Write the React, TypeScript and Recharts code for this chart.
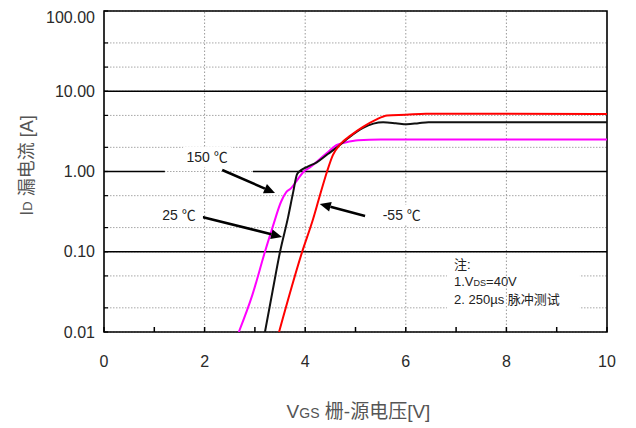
import React from 'react';
import { LineChart, Line, XAxis, YAxis, CartesianGrid, ReferenceLine, ReferenceDot, ReferenceArea } from 'recharts';

// transfer curves, Vgs [V] vs Id [A]
const vgs150 = [2.68, 2.95, 3.2, 3.36, 3.52, 3.62, 3.72, 3.84, 3.96, 4.1, 4.43, 4.63, 4.8, 5.05, 5.5, 10];
const id150 = [0.01, 0.029, 0.1, 0.21, 0.42, 0.55, 0.62, 0.78, 0.98, 1.13, 1.7, 2.15, 2.3, 2.45, 2.5, 2.5];

const vgs25 = [3.2, 3.35, 3.5, 3.66, 3.76, 3.84, 3.92, 4.05, 4.23, 4.45, 4.63, 4.85, 5.15, 5.55, 5.8, 6.02, 6.25, 6.45, 10];
const id25 = [0.01, 0.032, 0.1, 0.27, 0.55, 0.93, 1.04, 1.15, 1.3, 1.65, 2.0, 2.6, 3.5, 4.1, 4.0, 3.88, 4.0, 4.12, 4.12];

const vgsM55 = [3.48, 3.94, 4.16, 4.27, 4.43, 4.55, 4.7, 4.9, 5.15, 5.4, 5.63, 6.0, 6.4, 10];
const idM55 = [0.01, 0.1, 0.26, 0.45, 0.98, 1.6, 2.2, 2.8, 3.6, 4.4, 5.0, 5.1, 5.25, 5.2];

const xTicks = [0, 1, 2, 3, 4, 5, 6, 7, 8, 9, 10];
const xLabeled = [0, 2, 4, 6, 8, 10];
const yDecades = [0.01, 0.1, 1, 10, 100];
const yMinorSteps = [2, 3, 4, 5, 6, 7, 8, 9];

const FONT = '"Liberation Sans", Arial, "Noto Sans CJK SC", sans-serif';

const toPoints = (xs: number[], ys: number[]) => xs.map((v, i) => ({ vgs: v, id: ys[i] }));

const yTicks: number[] = [];
yDecades.forEach((d, i) => {
  yTicks.push(d);
  if (i < yDecades.length - 1) yMinorSteps.forEach((m) => yTicks.push(Number((d * m).toPrecision(3))));
});

const YTick = ({ x, y, payload }: any) => {
  if (!yDecades.includes(payload.value)) return null;
  return (
    <text x={x} y={y} textAnchor="end" dominantBaseline="central" fontSize={16} fill="#2a2a2a" fontFamily={FONT}>
      {payload.value.toFixed(2)}
    </text>
  );
};

const XTick = ({ x, y, payload }: any) => {
  if (!xLabeled.includes(payload.value)) return null;
  return (
    <text x={x} y={y} textAnchor="middle" dominantBaseline="central" fontSize={16} fill="#2a2a2a" fontFamily={FONT}>
      {payload.value}
    </text>
  );
};

const Arrow = (p: any) => {
  const { x1, y1, x2, y2 } = p;
  const ang = Math.atan2(y2 - y1, x2 - x1);
  const len = 11;
  const w = 5;
  const bx = x2 - len * Math.cos(ang);
  const by = y2 - len * Math.sin(ang);
  const nx = -Math.sin(ang) * w;
  const ny = Math.cos(ang) * w;
  return (
    <g>
      <line x1={x1} y1={y1} x2={bx} y2={by} stroke="#000" strokeWidth={2.6} />
      <polygon points={`${x2},${y2} ${bx + nx},${by + ny} ${bx - nx},${by - ny}`} fill="#000" />
    </g>
  );
};

const tempLabel = (text: string) => (p: any) => (
  <g>
    <rect x={p.cx - 24} y={p.cy - 10} width={48} height={20} fill="#fff" />
    <text x={p.cx} y={p.cy} textAnchor="middle" dominantBaseline="central" fontSize={14} fill="#222" fontFamily={FONT}>
      {text}
    </text>
  </g>
);

const NoteBox = (p: any) => (
  <g>
    <rect x={p.x} y={p.y} width={p.width} height={p.height} fill="#fff" />
    <text x={p.x + 7} y={p.y + 14} fontSize={13} fill="#222" fontFamily={FONT}>注:</text>
    <text x={p.x + 7} y={p.y + 31} fontSize={13} fill="#222" fontFamily={FONT}>
      1.V<tspan fontSize={9}>DS</tspan>=40V
    </text>
    <text x={p.x + 7} y={p.y + 49} fontSize={13} fill="#222" fontFamily={FONT}>2. 250µs 脉冲测试</text>
  </g>
);

const YLabel = (p: any) => {
  const vb = p.viewBox;
  const cx = vb.x - 17;
  const cy = vb.y + vb.height / 2 - 6;
  return (
    <text x={cx} y={cy} transform={`rotate(-90 ${cx} ${cy})`} textAnchor="middle" dominantBaseline="central" fontSize={18} fill="#555" fontFamily={FONT}>
      I<tspan fontSize={13}>D</tspan> 漏电流 [A]
    </text>
  );
};

const XLabel = (p: any) => {
  const vb = p.viewBox;
  return (
    <text x={vb.x + vb.width / 2 + 3} y={vb.y + 86} textAnchor="middle" fontSize={19} fill="#555" fontFamily={FONT}>
      V<tspan fontSize={14}>GS</tspan> 栅-源电压[V]
    </text>
  );
};

export default function App() {
  return (
    <div style={{ width: 620, height: 420, background: '#fff' }}>
      <LineChart width={620} height={420} margin={{ top: 3, right: 21, bottom: 56, left: 36 }}>
        <CartesianGrid vertical={false} stroke="#a8a8a8" strokeDasharray="1.5 1.5" />
        <XAxis
          dataKey="vgs"
          type="number"
          domain={[0, 10]}
          ticks={xTicks}
          allowDataOverflow
          axisLine={false}
          tickSize={-5}
          tickMargin={34}
          tickLine={{ stroke: '#000', strokeWidth: 1.5 }}
          tick={<XTick />}
          height={40}
          label={XLabel}
        />
        <YAxis
          dataKey="id"
          type="number"
          scale="log"
          domain={[0.01, 100]}
          ticks={yTicks}
          allowDataOverflow
          axisLine={false}
          tickSize={-4}
          tickMargin={13}
          tickLine={{ stroke: '#000', strokeWidth: 1.2 }}
          tick={<YTick />}
          width={60}
          label={YLabel}
        />
        {xLabeled.slice(1, -1).map((v) => (
          <ReferenceLine key={`v${v}`} x={v} stroke="#999" strokeDasharray="1.5 2" />
        ))}
        <ReferenceLine y={10} stroke="#000" strokeWidth={1.6} />
        <ReferenceLine y={0.1} stroke="#000" strokeWidth={1.6} />
        <ReferenceLine segment={[{ x: 0, y: 1 }, { x: 1.21, y: 1 }]} stroke="#000" strokeWidth={1.6} />
        <ReferenceLine segment={[{ x: 2.96, y: 1 }, { x: 10, y: 1 }]} stroke="#000" strokeWidth={1.6} />
        <ReferenceArea x1={6.82} x2={9.46} y1={0.0163} y2={0.091} shape={NoteBox} />
        <ReferenceDot x={2.05} y={1.52} r={0} shape={tempLabel('150 ℃')} />
        <ReferenceDot x={1.49} y={0.287} r={0} shape={tempLabel('25 ℃')} />
        <ReferenceDot x={5.92} y={0.287} r={0} shape={tempLabel('-55 ℃')} />
        <Line data={toPoints(vgs150, id150)} dataKey="id" type="monotone" stroke="#ff00ff" strokeWidth={2} dot={false} isAnimationActive={false} />
        <Line data={toPoints(vgs25, id25)} dataKey="id" type="monotone" stroke="#111" strokeWidth={2} dot={false} isAnimationActive={false} />
        <Line data={toPoints(vgsM55, idM55)} dataKey="id" type="monotone" stroke="#ff0000" strokeWidth={2} dot={false} isAnimationActive={false} />
        <ReferenceLine segment={[{ x: 2.35, y: 1.045 }, { x: 3.4, y: 0.54 }]} shape={Arrow} />
        <ReferenceLine segment={[{ x: 1.95, y: 0.271 }, { x: 3.54, y: 0.153 }]} shape={Arrow} />
        <ReferenceLine segment={[{ x: 5.19, y: 0.279 }, { x: 4.29, y: 0.394 }]} shape={Arrow} />
        <ReferenceArea x1={0} x2={10} y1={0.01} y2={100} fill="none" stroke="#000" strokeWidth={1.6} ifOverflow="visible" />
      </LineChart>
    </div>
  );
}
